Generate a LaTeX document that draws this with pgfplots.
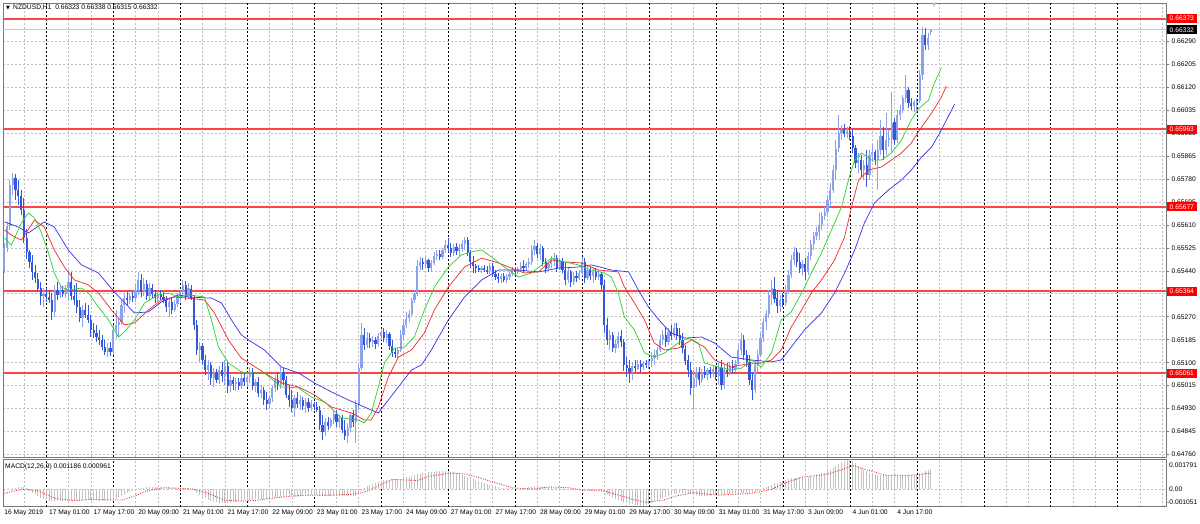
\documentclass[border=0pt]{standalone}
\usepackage{fontspec}
\setmainfont{Liberation Sans}
\newfontfamily\dejavu{DejaVu Sans}
\usepackage{pgfplots}
\usepackage{pgfplotstable}
\pgfplotsset{compat=1.18}
\definecolor{bullc}{RGB}{140,162,236}
\definecolor{bearc}{RGB}{52,86,216}
\definecolor{levelred}{RGB}{250,70,70}
\definecolor{gridc}{RGB}{190,190,190}
\definecolor{framec}{RGB}{120,120,120}
\definecolor{histc}{RGB}{195,195,195}
\definecolor{lblred}{RGB}{255,0,0}
\definecolor{mag}{RGB}{40,210,40}
\definecolor{mar}{RGB}{240,40,40}
\definecolor{mab}{RGB}{50,50,240}
\newcommand\mtfont{\fontsize{6.7}{8}\selectfont}

\pgfplotstableread{
i o h l c
0 0.65443 0.65543 0.65432 0.65524
1 0.65524 0.65621 0.65510 0.65606
2 0.65606 0.65776 0.65591 0.65758
3 0.65758 0.65802 0.65721 0.65783
4 0.65783 0.65798 0.65702 0.65739
5 0.65739 0.65776 0.65684 0.65717
6 0.65717 0.65739 0.65647 0.65665
7 0.65665 0.65709 0.65543 0.65561
8 0.65561 0.65598 0.65487 0.65510
9 0.65510 0.65517 0.65450 0.65473
10 0.65473 0.65499 0.65406 0.65436
11 0.65436 0.65462 0.65395 0.65413
12 0.65413 0.65432 0.65362 0.65376
13 0.65376 0.65399 0.65314 0.65347
14 0.65347 0.65376 0.65306 0.65354
15 0.65354 0.65376 0.65325 0.65343
16 0.65343 0.65369 0.65321 0.65332
17 0.65332 0.65358 0.65258 0.65288
18 0.65288 0.65388 0.65269 0.65369
19 0.65369 0.65399 0.65332 0.65351
20 0.65351 0.65388 0.65339 0.65369
21 0.65369 0.65384 0.65343 0.65354
22 0.65354 0.65388 0.65339 0.65376
23 0.65376 0.65443 0.65332 0.65399
24 0.65399 0.65436 0.65332 0.65347
25 0.65347 0.65388 0.65314 0.65332
26 0.65332 0.65395 0.65284 0.65306
27 0.65306 0.65332 0.65251 0.65265
28 0.65265 0.65314 0.65232 0.65295
29 0.65295 0.65321 0.65265 0.65277
30 0.65277 0.65314 0.65247 0.65258
31 0.65258 0.65277 0.65195 0.65221
32 0.65221 0.65247 0.65191 0.65210
33 0.65210 0.65240 0.65177 0.65195
34 0.65195 0.65221 0.65166 0.65184
35 0.65184 0.65203 0.65147 0.65158
36 0.65158 0.65184 0.65129 0.65140
37 0.65140 0.65173 0.65121 0.65154
38 0.65154 0.65177 0.65125 0.65140
39 0.65140 0.65240 0.65129 0.65221
40 0.65221 0.65295 0.65191 0.65240
41 0.65240 0.65265 0.65195 0.65251
42 0.65251 0.65332 0.65240 0.65314
43 0.65314 0.65358 0.65284 0.65339
44 0.65339 0.65362 0.65314 0.65332
45 0.65332 0.65358 0.65317 0.65347
46 0.65347 0.65362 0.65325 0.65339
47 0.65339 0.65388 0.65325 0.65369
48 0.65369 0.65436 0.65351 0.65406
49 0.65406 0.65428 0.65343 0.65362
50 0.65362 0.65413 0.65347 0.65391
51 0.65391 0.65406 0.65332 0.65347
52 0.65347 0.65395 0.65332 0.65376
53 0.65376 0.65391 0.65339 0.65354
54 0.65354 0.65369 0.65321 0.65339
55 0.65339 0.65365 0.65325 0.65354
56 0.65354 0.65369 0.65332 0.65343
57 0.65343 0.65362 0.65321 0.65332
58 0.65332 0.65347 0.65288 0.65306
59 0.65306 0.65339 0.65269 0.65325
60 0.65325 0.65339 0.65280 0.65295
61 0.65295 0.65332 0.65288 0.65317
62 0.65317 0.65358 0.65306 0.65347
63 0.65347 0.65369 0.65325 0.65362
64 0.65362 0.65406 0.65347 0.65388
65 0.65388 0.65403 0.65332 0.65347
66 0.65347 0.65395 0.65336 0.65376
67 0.65376 0.65388 0.65332 0.65339
68 0.65339 0.65351 0.65221 0.65240
69 0.65240 0.65258 0.65129 0.65147
70 0.65147 0.65177 0.65103 0.65162
71 0.65162 0.65173 0.65092 0.65110
72 0.65110 0.65129 0.65055 0.65073
73 0.65073 0.65110 0.65036 0.65092
74 0.65092 0.65103 0.65018 0.65043
75 0.65043 0.65080 0.65010 0.65066
76 0.65066 0.65080 0.65025 0.65036
77 0.65036 0.65088 0.65022 0.65073
78 0.65073 0.65103 0.65029 0.65051
79 0.65051 0.65110 0.65018 0.65088
80 0.65088 0.65103 0.64988 0.65014
81 0.65014 0.65055 0.64992 0.65036
82 0.65036 0.65047 0.64999 0.65022
83 0.65022 0.65043 0.64996 0.65029
84 0.65029 0.65043 0.64999 0.65014
85 0.65014 0.65058 0.65003 0.65043
86 0.65043 0.65062 0.65014 0.65029
87 0.65029 0.65055 0.65010 0.65047
88 0.65047 0.65084 0.65025 0.65066
89 0.65066 0.65080 0.64999 0.65014
90 0.65014 0.65043 0.64992 0.65029
91 0.65029 0.65047 0.64973 0.64988
92 0.64988 0.65018 0.64970 0.64999
93 0.64999 0.65010 0.64944 0.64962
94 0.64962 0.64992 0.64925 0.64947
95 0.64947 0.64977 0.64933 0.64970
96 0.64970 0.65018 0.64955 0.65007
97 0.65007 0.65055 0.64992 0.65036
98 0.65036 0.65062 0.64999 0.65018
99 0.65018 0.65084 0.65003 0.65066
100 0.65066 0.65080 0.65018 0.65036
101 0.65036 0.65051 0.64970 0.64981
102 0.64981 0.65018 0.64936 0.64962
103 0.64962 0.64999 0.64918 0.64933
104 0.64933 0.64981 0.64899 0.64970
105 0.64970 0.64992 0.64933 0.64947
106 0.64947 0.64981 0.64925 0.64962
107 0.64962 0.64973 0.64925 0.64940
108 0.64940 0.64970 0.64914 0.64955
109 0.64955 0.64970 0.64918 0.64933
110 0.64933 0.64962 0.64921 0.64947
111 0.64947 0.64955 0.64925 0.64936
112 0.64936 0.64955 0.64918 0.64925
113 0.64925 0.64940 0.64851 0.64870
114 0.64870 0.64907 0.64814 0.64844
115 0.64844 0.64896 0.64829 0.64881
116 0.64881 0.64899 0.64851 0.64866
117 0.64866 0.64896 0.64859 0.64888
118 0.64888 0.64925 0.64873 0.64910
119 0.64910 0.64925 0.64862 0.64881
120 0.64881 0.64907 0.64859 0.64896
121 0.64896 0.64907 0.64840 0.64851
122 0.64851 0.64888 0.64814 0.64829
123 0.64829 0.64877 0.64803 0.64859
124 0.64859 0.64918 0.64844 0.64907
125 0.64907 0.64925 0.64862 0.64881
126 0.64881 0.64962 0.64803 0.64944
127 0.64944 0.65099 0.64925 0.65080
128 0.65080 0.65247 0.65073 0.65203
129 0.65203 0.65229 0.65147 0.65166
130 0.65166 0.65214 0.65154 0.65191
131 0.65191 0.65210 0.65154 0.65177
132 0.65177 0.65199 0.65158 0.65184
133 0.65184 0.65195 0.65154 0.65169
134 0.65169 0.65210 0.65162 0.65199
135 0.65199 0.65221 0.65184 0.65214
136 0.65214 0.65229 0.65177 0.65191
137 0.65191 0.65221 0.65173 0.65206
138 0.65206 0.65214 0.65147 0.65162
139 0.65162 0.65184 0.65121 0.65140
140 0.65140 0.65154 0.65118 0.65132
141 0.65132 0.65154 0.65118 0.65147
142 0.65147 0.65221 0.65140 0.65203
143 0.65203 0.65258 0.65184 0.65240
144 0.65240 0.65288 0.65229 0.65265
145 0.65265 0.65295 0.65251 0.65280
146 0.65280 0.65339 0.65273 0.65332
147 0.65332 0.65369 0.65321 0.65354
148 0.65354 0.65480 0.65347 0.65458
149 0.65458 0.65491 0.65443 0.65473
150 0.65473 0.65487 0.65443 0.65465
151 0.65465 0.65491 0.65450 0.65480
152 0.65480 0.65487 0.65436 0.65450
153 0.65450 0.65480 0.65436 0.65469
154 0.65469 0.65510 0.65462 0.65495
155 0.65495 0.65517 0.65480 0.65502
156 0.65502 0.65517 0.65480 0.65491
157 0.65491 0.65524 0.65484 0.65517
158 0.65517 0.65554 0.65506 0.65536
159 0.65536 0.65561 0.65510 0.65524
160 0.65524 0.65543 0.65491 0.65506
161 0.65506 0.65539 0.65495 0.65528
162 0.65528 0.65543 0.65499 0.65513
163 0.65513 0.65539 0.65491 0.65524
164 0.65524 0.65554 0.65510 0.65539
165 0.65539 0.65565 0.65517 0.65554
166 0.65554 0.65565 0.65495 0.65506
167 0.65506 0.65517 0.65450 0.65473
168 0.65473 0.65495 0.65432 0.65458
169 0.65458 0.65465 0.65432 0.65450
170 0.65450 0.65462 0.65436 0.65443
171 0.65443 0.65458 0.65432 0.65450
172 0.65450 0.65462 0.65436 0.65443
173 0.65443 0.65458 0.65428 0.65439
174 0.65439 0.65469 0.65428 0.65458
175 0.65458 0.65469 0.65417 0.65428
176 0.65428 0.65443 0.65406 0.65417
177 0.65417 0.65432 0.65395 0.65410
178 0.65410 0.65428 0.65395 0.65421
179 0.65421 0.65432 0.65399 0.65406
180 0.65406 0.65428 0.65395 0.65417
181 0.65417 0.65436 0.65406 0.65428
182 0.65428 0.65454 0.65421 0.65443
183 0.65443 0.65454 0.65425 0.65436
184 0.65436 0.65454 0.65428 0.65447
185 0.65447 0.65473 0.65436 0.65458
186 0.65458 0.65480 0.65432 0.65450
187 0.65450 0.65473 0.65439 0.65465
188 0.65465 0.65487 0.65450 0.65473
189 0.65473 0.65536 0.65462 0.65517
190 0.65517 0.65554 0.65499 0.65532
191 0.65532 0.65543 0.65487 0.65502
192 0.65502 0.65539 0.65480 0.65524
193 0.65524 0.65532 0.65458 0.65473
194 0.65473 0.65487 0.65432 0.65450
195 0.65450 0.65473 0.65439 0.65465
196 0.65465 0.65495 0.65450 0.65480
197 0.65480 0.65506 0.65458 0.65487
198 0.65487 0.65499 0.65436 0.65450
199 0.65450 0.65487 0.65443 0.65473
200 0.65473 0.65487 0.65432 0.65443
201 0.65443 0.65469 0.65388 0.65406
202 0.65406 0.65450 0.65395 0.65436
203 0.65436 0.65443 0.65380 0.65399
204 0.65399 0.65436 0.65388 0.65421
205 0.65421 0.65439 0.65399 0.65413
206 0.65413 0.65443 0.65406 0.65432
207 0.65432 0.65491 0.65421 0.65473
208 0.65473 0.65487 0.65395 0.65413
209 0.65413 0.65458 0.65406 0.65443
210 0.65443 0.65454 0.65406 0.65421
211 0.65421 0.65450 0.65395 0.65436
212 0.65436 0.65450 0.65406 0.65417
213 0.65417 0.65443 0.65406 0.65428
214 0.65428 0.65436 0.65369 0.65388
215 0.65388 0.65406 0.65210 0.65240
216 0.65240 0.65265 0.65166 0.65184
217 0.65184 0.65221 0.65147 0.65203
218 0.65203 0.65214 0.65140 0.65154
219 0.65154 0.65184 0.65136 0.65169
220 0.65169 0.65214 0.65154 0.65199
221 0.65199 0.65221 0.65158 0.65177
222 0.65177 0.65191 0.65073 0.65092
223 0.65092 0.65121 0.65047 0.65080
224 0.65080 0.65110 0.65025 0.65066
225 0.65066 0.65103 0.65036 0.65088
226 0.65088 0.65110 0.65066 0.65080
227 0.65080 0.65110 0.65073 0.65095
228 0.65095 0.65110 0.65066 0.65084
229 0.65084 0.65106 0.65073 0.65099
230 0.65099 0.65110 0.65080 0.65092
231 0.65092 0.65117 0.65080 0.65106
232 0.65106 0.65140 0.65084 0.65117
233 0.65117 0.65147 0.65092 0.65129
234 0.65129 0.65158 0.65110 0.65147
235 0.65147 0.65203 0.65140 0.65184
236 0.65184 0.65221 0.65166 0.65203
237 0.65203 0.65232 0.65158 0.65177
238 0.65177 0.65229 0.65166 0.65214
239 0.65214 0.65240 0.65184 0.65199
240 0.65199 0.65247 0.65191 0.65229
241 0.65229 0.65247 0.65184 0.65203
242 0.65203 0.65229 0.65166 0.65184
243 0.65184 0.65210 0.65136 0.65154
244 0.65154 0.65166 0.65092 0.65110
245 0.65110 0.65129 0.65047 0.65073
246 0.65073 0.65103 0.64981 0.65007
247 0.65007 0.65073 0.64925 0.65043
248 0.65043 0.65084 0.65010 0.65066
249 0.65066 0.65084 0.65018 0.65036
250 0.65036 0.65080 0.65025 0.65066
251 0.65066 0.65088 0.65043 0.65055
252 0.65055 0.65080 0.65036 0.65073
253 0.65073 0.65084 0.65043 0.65058
254 0.65058 0.65088 0.65047 0.65077
255 0.65077 0.65088 0.65036 0.65051
256 0.65051 0.65103 0.65018 0.65080
257 0.65080 0.65110 0.64999 0.65018
258 0.65018 0.65092 0.65003 0.65073
259 0.65073 0.65099 0.65047 0.65066
260 0.65066 0.65103 0.65055 0.65088
261 0.65088 0.65110 0.65062 0.65080
262 0.65080 0.65110 0.65066 0.65095
263 0.65095 0.65166 0.65088 0.65147
264 0.65147 0.65210 0.65129 0.65184
265 0.65184 0.65203 0.65110 0.65129
266 0.65129 0.65147 0.65084 0.65103
267 0.65103 0.65129 0.65018 0.65036
268 0.65036 0.65066 0.64962 0.64999
269 0.64999 0.65110 0.64988 0.65092
270 0.65092 0.65147 0.65066 0.65129
271 0.65129 0.65210 0.65121 0.65191
272 0.65191 0.65265 0.65177 0.65251
273 0.65251 0.65295 0.65221 0.65280
274 0.65280 0.65369 0.65265 0.65351
275 0.65351 0.65406 0.65314 0.65376
276 0.65376 0.65417 0.65321 0.65339
277 0.65339 0.65369 0.65284 0.65310
278 0.65310 0.65351 0.65288 0.65332
279 0.65332 0.65358 0.65306 0.65321
280 0.65321 0.65388 0.65310 0.65369
281 0.65369 0.65443 0.65358 0.65425
282 0.65425 0.65499 0.65413 0.65480
283 0.65480 0.65528 0.65462 0.65510
284 0.65510 0.65524 0.65454 0.65473
285 0.65473 0.65506 0.65432 0.65450
286 0.65450 0.65480 0.65425 0.65465
287 0.65465 0.65487 0.65406 0.65436
288 0.65436 0.65510 0.65425 0.65495
289 0.65495 0.65554 0.65480 0.65539
290 0.65539 0.65584 0.65517 0.65569
291 0.65569 0.65602 0.65554 0.65584
292 0.65584 0.65654 0.65554 0.65610
293 0.65610 0.65658 0.65591 0.65643
294 0.65643 0.65676 0.65628 0.65658
295 0.65658 0.65717 0.65647 0.65702
296 0.65702 0.65765 0.65676 0.65739
297 0.65739 0.65832 0.65728 0.65813
298 0.65813 0.65924 0.65776 0.65894
299 0.65894 0.66017 0.65880 0.65950
300 0.65950 0.65979 0.65924 0.65961
301 0.65961 0.65983 0.65935 0.65946
302 0.65946 0.65972 0.65931 0.65957
303 0.65957 0.65976 0.65924 0.65939
304 0.65939 0.65961 0.65876 0.65894
305 0.65894 0.65906 0.65820 0.65839
306 0.65839 0.65876 0.65802 0.65850
307 0.65850 0.65869 0.65787 0.65813
308 0.65813 0.65850 0.65776 0.65832
309 0.65832 0.65887 0.65750 0.65795
310 0.65795 0.65887 0.65776 0.65869
311 0.65869 0.65909 0.65843 0.65880
312 0.65880 0.65887 0.65832 0.65850
313 0.65850 0.65924 0.65739 0.65887
314 0.65887 0.65998 0.65869 0.65942
315 0.65942 0.65972 0.65850 0.65887
316 0.65887 0.66024 0.65869 0.65924
317 0.65924 0.65961 0.65898 0.65931
318 0.65931 0.66101 0.65876 0.65990
319 0.65990 0.66005 0.65906 0.65924
320 0.65924 0.66035 0.65913 0.66017
321 0.66017 0.66054 0.65998 0.66035
322 0.66035 0.66090 0.66024 0.66079
323 0.66079 0.66164 0.66064 0.66109
324 0.66109 0.66120 0.66042 0.66061
325 0.66061 0.66079 0.66035 0.66050
326 0.66050 0.66072 0.66028 0.66064
327 0.66064 0.66079 0.66035 0.66068
328 0.66068 0.66183 0.66061 0.66164
329 0.66164 0.66342 0.66146 0.66313
330 0.66313 0.66339 0.66257 0.66276
331 0.66276 0.66320 0.66257 0.66302
332 0.66323 0.66338 0.66315 0.66332
}\candles

\pgfplotstableread{
x y
-0.5 0.66373
416.3 0.66373
nan nan
-0.5 0.65963
416.3 0.65963
nan nan
-0.5 0.65677
416.3 0.65677
nan nan
-0.5 0.65364
416.3 0.65364
nan nan
-0.5 0.65061
416.3 0.65061
}\levels

\begin{document}
\begin{tikzpicture}[font=\mtfont]
\fill[white] (0pt,0pt) rectangle (1200pt,-523pt);
\useasboundingbox (0pt,0pt) rectangle (1200pt,-523pt);

% ---------------- main price panel ----------------
\begin{axis}[
  at={(3pt,-3pt)}, anchor=north west,
  scale only axis, width=1163pt, height=454pt,
  xmin=-0.5, xmax=416.3, ymin=0.64751, ymax=0.66431,
  axis line style={framec, line width=0.9pt},
  xtick={7,15,...,415}, xticklabels={}, xtick style={draw=none},
  xmajorgrids,
  extra x ticks={15,39,...,399}, extra x tick labels={},
  extra x tick style={grid=major, major tick length=0pt,
     major grid style={black, dash pattern=on 2pt off 2pt, line width=0.6pt}},
  ytick={0.64760,0.64845,0.64930,0.65015,0.65100,0.65185,0.65270,0.65355,0.65440,0.65525,0.65610,0.65695,0.65780,0.65865,0.65950,0.66035,0.66120,0.66205,0.66290,0.66375},
  ymajorgrids, ytick pos=right, yticklabel pos=right,
  ytick style={framec, line width=0.6pt}, tick align=outside, major tick length=3pt,
  scaled y ticks=false,
  grid style={gridc, dash pattern=on 2pt off 2pt, line width=0.6pt},
  yticklabel style={font=\mtfont, xshift=-1pt, /pgf/number format/.cd, fixed, fixed zerofill, precision=5, assume math mode=true},
]
% current price line
\addplot[gray!45, line width=0.8pt, forget plot] coordinates {(-0.5,0.66332) (416.3,0.66332)};

% support / resistance levels
\addplot[draw=levelred, line width=2pt, mark=none, forget plot, unbounded coords=jump] table[x=x, y=y] {\levels};

% candles: wicks and bodies
\addplot[draw=none, mark=none, forget plot, unbounded coords=discard,
  error bars/.cd, y dir=both, y explicit, error mark=none,
  error bar style={draw=bullc, line width=1pt}]
  table[x=i, y expr={\thisrow{c}<\thisrow{o} ? nan : (\thisrow{h}+\thisrow{l})/2},
        y error expr={(\thisrow{h}-\thisrow{l})/2}] {\candles};
\addplot[draw=none, mark=none, forget plot, unbounded coords=discard,
  error bars/.cd, y dir=both, y explicit, error mark=none,
  error bar style={draw=bullc, line width=2.2pt}]
  table[x=i, y expr={\thisrow{c}<\thisrow{o} ? nan : (\thisrow{o}+\thisrow{c})/2},
        y error expr={abs(\thisrow{c}-\thisrow{o})/2}] {\candles};
\addplot[draw=none, mark=none, forget plot, unbounded coords=discard,
  error bars/.cd, y dir=both, y explicit, error mark=none,
  error bar style={draw=bearc, line width=1pt}]
  table[x=i, y expr={\thisrow{c}<\thisrow{o} ? (\thisrow{h}+\thisrow{l})/2 : nan},
        y error expr={(\thisrow{h}-\thisrow{l})/2}] {\candles};
\addplot[draw=none, mark=none, forget plot, unbounded coords=discard,
  error bars/.cd, y dir=both, y explicit, error mark=none,
  error bar style={draw=bearc, line width=2.2pt}]
  table[x=i, y expr={\thisrow{c}<\thisrow{o} ? (\thisrow{o}+\thisrow{c})/2 : nan},
        y error expr={abs(\thisrow{c}-\thisrow{o})/2}] {\candles};

% moving averages
\addplot[mab, line width=0.7pt, forget plot] coordinates {(0,0.65621) (5,0.65602) (8.6,0.65580) (14.3,0.65621) (17.9,0.65602) (22.9,0.65517) (27.6,0.65462) (33.7,0.65432) (39.4,0.65362) (46.6,0.65284) (51.6,0.65288) (56.3,0.65325) (62.4,0.65351) (65.9,0.65343) (74.2,0.65339) (77.8,0.65321) (81.4,0.65258) (84.9,0.65203) (87.5,0.65184) (93.2,0.65147) (99.3,0.65084) (105.4,0.65062) (111.1,0.65025) (117.2,0.64992) (123.3,0.64962) (129,0.64936) (134,0.64914) (137.6,0.64962) (142.3,0.65025) (145.9,0.65073) (149.5,0.65092) (153,0.65147) (159.1,0.65258) (164.9,0.65343) (171,0.65406) (177.1,0.65443) (184.2,0.65443) (191.4,0.65436) (198.6,0.65450) (205.7,0.65454) (210.3,0.65462) (217.5,0.65443) (223.7,0.65436) (227.2,0.65369) (230.8,0.65306) (235.5,0.65247) (239,0.65210) (243.7,0.65191) (249.8,0.65195) (254.5,0.65173) (260.5,0.65121) (267.7,0.65110) (274.9,0.65103) (278.4,0.65110) (282,0.65158) (286.7,0.65221) (292.8,0.65284) (297.5,0.65358) (301.1,0.65432) (304.7,0.65517) (308.2,0.65617) (311.8,0.65691) (316.8,0.65739) (321.5,0.65776) (325,0.65813) (328.7,0.65861) (332.3,0.65898) (335.8,0.65961) (340.5,0.66057)};
\addplot[mar, line width=0.7pt, forget plot] coordinates {(0,0.65591) (3.6,0.65565) (6.1,0.65554) (10.8,0.65628) (14.3,0.65602) (17.9,0.65517) (21.5,0.65454) (25.1,0.65406) (30.1,0.65388) (33.7,0.65358) (38.4,0.65295) (43,0.65240) (46.6,0.65247) (51.6,0.65295) (56.3,0.65332) (60.9,0.65343) (65.9,0.65339) (71.7,0.65332) (75.3,0.65284) (80.3,0.65184) (84.9,0.65117) (86,0.65110) (93.2,0.65062) (99.3,0.65025) (105.4,0.65010) (111.1,0.64981) (117.2,0.64936) (124.4,0.64914) (129,0.64888) (131.5,0.64888) (134,0.64936) (137.6,0.65047) (141.2,0.65121) (145.9,0.65147) (150.5,0.65210) (154.1,0.65295) (159.1,0.65380) (164.9,0.65454) (171,0.65487) (177.1,0.65469) (181.7,0.65450) (186.4,0.65432) (191.4,0.65436) (196.1,0.65480) (200.6,0.65473) (206.8,0.65469) (212.8,0.65443) (220,0.65436) (222.2,0.65380) (225.8,0.65321) (229.4,0.65258) (232.9,0.65173) (236.6,0.65147) (241.5,0.65154) (246.2,0.65184) (250.9,0.65158) (254.5,0.65110) (260.5,0.65084) (264.2,0.65092) (271.3,0.65099) (274.9,0.65110) (278.4,0.65147) (282,0.65232) (285.7,0.65295) (289.2,0.65358) (292.8,0.65406) (297.5,0.65480) (301.1,0.65565) (303.6,0.65676) (306.1,0.65776) (309.7,0.65813) (314.3,0.65824) (317.9,0.65850) (321.5,0.65876) (325,0.65913) (328.7,0.65972) (332.3,0.66024) (335.8,0.66083) (337.6,0.66124)};
\addplot[mag, line width=0.7pt, forget plot] coordinates {(0,0.65561) (2.5,0.65535) (6.1,0.65617) (8.6,0.65654) (10.8,0.65636) (13.3,0.65580) (15.8,0.65506) (17.9,0.65432) (20.4,0.65380) (22.9,0.65369) (27.6,0.65376) (30.1,0.65358) (33.7,0.65306) (37.3,0.65258) (40.9,0.65195) (43,0.65214) (46.6,0.65258) (50.2,0.65321) (55.2,0.65351) (58.8,0.65358) (62.4,0.65343) (65.9,0.65351) (71.7,0.65343) (74.2,0.65258) (76.7,0.65158) (80.3,0.65099) (84.9,0.65066) (87.5,0.65062) (93.2,0.65062) (99.3,0.65010) (105.4,0.65007) (110,0.64973) (114.7,0.64955) (120.8,0.64896) (126.9,0.64888) (129,0.64877) (131.5,0.64914) (134,0.65010) (136.2,0.65099) (139.8,0.65154) (143.4,0.65158) (146.9,0.65195) (150.5,0.65295) (154.1,0.65380) (159.1,0.65454) (163.8,0.65499) (167.4,0.65510) (171,0.65517) (174.6,0.65491) (179.2,0.65454) (184.2,0.65417) (188.9,0.65432) (193.5,0.65469) (196.1,0.65487) (200.6,0.65473) (205.7,0.65462) (210.3,0.65443) (215,0.65432) (217.5,0.65417) (220,0.65358) (222.2,0.65269) (225.8,0.65221) (229.4,0.65136) (232.9,0.65121) (236.6,0.65136) (241.5,0.65173) (245.1,0.65191) (248.7,0.65173) (250.9,0.65099) (255.9,0.65084) (260.5,0.65073) (264.2,0.65080) (267.7,0.65110) (271.3,0.65084) (274.9,0.65136) (278.4,0.65258) (282,0.65288) (285.7,0.65358) (289.2,0.65432) (292.8,0.65506) (296.4,0.65591) (300,0.65676) (302.5,0.65776) (304.7,0.65850) (307.2,0.65876) (310.7,0.65850) (314.3,0.65850) (317.9,0.65876) (321.5,0.65924) (325,0.65998) (327.6,0.66039) (331.2,0.66072) (333.3,0.66135) (335.8,0.66191)};

\coordinate (r1) at (axis cs:416.3,0.66373);
\coordinate (r2) at (axis cs:416.3,0.65963);
\coordinate (r3) at (axis cs:416.3,0.65677);
\coordinate (r4) at (axis cs:416.3,0.65364);
\coordinate (r5) at (axis cs:416.3,0.65061);
\coordinate (cp) at (axis cs:416.3,0.66332);
\end{axis}

% ---------------- MACD panel ----------------
\begin{axis}[
  at={(3pt,-459.3pt)}, anchor=north west,
  scale only axis, width=1163pt, height=47.4pt,
  xmin=-0.5, xmax=416.3, ymin=-0.001051, ymax=0.001791,
  axis line style={framec, line width=0.9pt},
  xtick={7,15,...,415}, xticklabels={}, 
  xmajorgrids,
  extra x ticks={15,39,...,399}, extra x tick labels={},
  extra x tick style={grid=major,
     major grid style={black, dash pattern=on 2pt off 2pt, line width=0.6pt}},
  ytick={0}, yticklabels={}, ymajorgrids,
  tick style={draw=none}, major tick length=0pt,
  grid style={gridc, dash pattern=on 2pt off 2pt, line width=0.6pt},
  scaled y ticks=false,
]
\addplot[ycomb, histc, line width=1pt, mark=none, forget plot] coordinates {
(0,-0.00010) (1,-0.00005) (2,0) (3,0.00005) (4,0.00010) (5,0.00012) (6,0.00014) (7,0.00015) (8,0.00005) (9,-0.00008)
(10,-0.00020) (11,-0.00030) (12,-0.00040) (13,-0.00050) (14,-0.00057) (15,-0.00064) (16,-0.00070) (17,-0.00071) (18,-0.00071) (19,-0.00072)
(20,-0.00072) (21,-0.00071) (22,-0.00070) (23,-0.00069) (24,-0.00068) (25,-0.00066) (26,-0.00064) (27,-0.00063) (28,-0.00062) (29,-0.00063)
(30,-0.00063) (31,-0.00064) (32,-0.00065) (33,-0.00066) (34,-0.00068) (35,-0.00069) (36,-0.00070) (37,-0.00069) (38,-0.00067) (39,-0.00065)
(40,-0.00057) (41,-0.00048) (42,-0.00040) (43,-0.00032) (44,-0.00023) (45,-0.00015) (46,-0.00008) (47,-0.00002) (48,0.00005) (49,0.00008)
(50,0.00010) (51,0.00012) (52,0.00012) (53,0.00012) (54,0.00012) (55,0.00011) (56,0.00011) (57,0.00010) (58,0.00008) (59,0.00007)
(60,0.00005) (61,0.00005) (62,0.00004) (63,0.00004) (64,0.00004) (65,0.00005) (66,0.00005) (67,-0.00003) (68,-0.00011) (69,-0.00020)
(70,-0.00032) (71,-0.00044) (72,-0.00055) (73,-0.00062) (74,-0.00069) (75,-0.00075) (76,-0.00079) (77,-0.00082) (78,-0.00085) (79,-0.00083)
(80,-0.00082) (81,-0.00080) (82,-0.00077) (83,-0.00075) (84,-0.00072) (85,-0.00070) (86,-0.00067) (87,-0.00065) (88,-0.00063) (89,-0.00062)
(90,-0.00060) (91,-0.00059) (92,-0.00059) (93,-0.00058) (94,-0.00057) (95,-0.00056) (96,-0.00055) (97,-0.00052) (98,-0.00048) (99,-0.00045)
(100,-0.00044) (101,-0.00043) (102,-0.00042) (103,-0.00043) (104,-0.00044) (105,-0.00045) (106,-0.00043) (107,-0.00042) (108,-0.00040) (109,-0.00038)
(110,-0.00037) (111,-0.00035) (112,-0.00037) (113,-0.00040) (114,-0.00042) (115,-0.00041) (116,-0.00041) (117,-0.00040) (118,-0.00039) (119,-0.00039)
(120,-0.00038) (121,-0.00039) (122,-0.00040) (123,-0.00040) (124,-0.00039) (125,-0.00039) (126,-0.00038) (127,-0.00025) (128,-0.00010) (129,0.00005)
(130,0.00020) (131,0.00027) (132,0.00033) (133,0.00040) (134,0.00045) (135,0.00050) (136,0.00055) (137,0.00057) (138,0.00058) (139,0.00060)
(140,0.00061) (141,0.00061) (142,0.00062) (143,0.00066) (144,0.00071) (145,0.00075) (146,0.00080) (147,0.00085) (148,0.00090) (149,0.00093)
(150,0.00097) (151,0.00100) (152,0.00102) (153,0.00103) (154,0.00105) (155,0.00107) (156,0.00108) (157,0.00110) (158,0.00108) (159,0.00107)
(160,0.00105) (161,0.00102) (162,0.00098) (163,0.00095) (164,0.00088) (165,0.00082) (166,0.00075) (167,0.00068) (168,0.00062) (169,0.00055)
(170,0.00048) (171,0.00042) (172,0.00035) (173,0.00030) (174,0.00025) (175,0.00020) (176,0.00017) (177,0.00013) (178,0.00010) (179,0.00008)
(180,0.00007) (181,0.00005) (182,0.00005) (183,0.00005) (184,0.00005) (185,0.00006) (186,0.00007) (187,0.00008) (188,0.00012) (189,0.00015)
(190,0.00018) (191,0.00017) (192,0.00016) (193,0.00015) (194,0.00013) (195,0.00012) (196,0.00010) (197,0.00009) (198,0.00009) (199,0.00008)
(200,0.00005) (201,0.00003) (202,0) (203,-0.00002) (204,-0.00003) (205,-0.00005) (206,-0.00003) (207,-0.00001) (208,0) (209,-0.00001)
(210,-0.00001) (211,-0.00002) (212,-0.00004) (213,-0.00006) (214,-0.00008) (215,-0.00019) (216,-0.00030) (217,-0.00040) (218,-0.00050) (219,-0.00060)
(220,-0.00067) (221,-0.00073) (222,-0.00080) (223,-0.00084) (224,-0.00087) (225,-0.00090) (226,-0.00094) (227,-0.00097) (228,-0.00100) (229,-0.00098)
(230,-0.00095) (231,-0.00088) (232,-0.00080) (233,-0.00072) (234,-0.00065) (235,-0.00058) (236,-0.00052) (237,-0.00045) (238,-0.00040) (239,-0.00035)
(240,-0.00030) (241,-0.00027) (242,-0.00023) (243,-0.00020) (244,-0.00023) (245,-0.00027) (246,-0.00030) (247,-0.00033) (248,-0.00037) (249,-0.00040)
(250,-0.00040) (251,-0.00040) (252,-0.00040) (253,-0.00038) (254,-0.00037) (255,-0.00035) (256,-0.00034) (257,-0.00033) (258,-0.00032) (259,-0.00031)
(260,-0.00030) (261,-0.00028) (262,-0.00025) (263,-0.00023) (264,-0.00020) (265,-0.00021) (266,-0.00022) (267,-0.00022) (268,-0.00018) (269,-0.00014)
(270,-0.00010) (271,-0.00002) (272,0.00007) (273,0.00015) (274,0.00022) (275,0.00028) (276,0.00035) (277,0.00040) (278,0.00045) (279,0.00050)
(280,0.00055) (281,0.00060) (282,0.00065) (283,0.00067) (284,0.00070) (285,0.00072) (286,0.00073) (287,0.00074) (288,0.00075) (289,0.00078)
(290,0.00082) (291,0.00085) (292,0.00090) (293,0.00095) (294,0.00100) (295,0.00108) (296,0.00116) (297,0.00125) (298,0.00137) (299,0.00150)
(300,0.00160) (301,0.00170) (302,0.00175) (303,0.00179) (304,0.00170) (305,0.00155) (306,0.00140) (307,0.00127) (308,0.00115) (309,0.00107)
(310,0.00100) (311,0.00095) (312,0.00090) (313,0.00088) (314,0.00085) (315,0.00084) (316,0.00085) (317,0.00085) (318,0.00085) (319,0.00083)
(320,0.00082) (321,0.00084) (322,0.00085) (323,0.00087) (324,0.00088) (325,0.00087) (326,0.00086) (327,0.00087) (328,0.00088) (329,0.00100)
(330,0.00110) (331,0.00115) (332,0.00119)};
\addplot[mar, line width=0.8pt, dash pattern=on 1pt off 1.4pt, forget plot] coordinates {
(0,-0.00025) (4,-0.00008) (7.5,0.00000) (12,-0.00010) (18,-0.00054) (25,-0.00069) (31,-0.00062) (37.5,-0.00064) (42,-0.00065) (46,-0.00045) (51,-0.00011) (57,0.00009) (62,0.00006) (68,0.00000) (73,-0.00025) (79,-0.00066) (85,-0.00072) (90,-0.00068) (96,-0.00054) (101,-0.00045) (107,-0.00036) (114,-0.00037) (120,-0.00034) (125,-0.00030) (128,-0.00021) (131,-0.00005) (134,0.00019) (139,0.00058) (144,0.00055) (148,0.00052) (152,0.00077) (160,0.00097) (165,0.00091) (170,0.00070) (174,0.00048) (182,0.00009) (189,0.00000) (195,0.00013) (202,0.00009) (207,-0.00005) (215,-0.00011) (221,-0.00040) (226,-0.00065) (230,-0.00079) (236,-0.00066) (241,-0.00040) (247,-0.00021) (252,-0.00030) (256,-0.00036) (262,-0.00030) (267,-0.00026) (271,-0.00015) (275,0.00000) (280,0.00038) (286,0.00073) (294,0.00087) (299,0.00110) (304,0.00142) (309,0.00116) (316,0.00083) (325,0.00083) (332,0.00096)};
\end{axis}

% ---------------- date labels ----------------
\begin{axis}[
  at={(3pt,-459.3pt)}, anchor=north west,
  scale only axis, width=1163pt, height=47.4pt,
  xmin=-0.5, xmax=416.3, ymin=0, ymax=1,
  axis line style={draw=none}, ytick=\empty, tick style={draw=none},
  xtick={0,16,...,320},
  xticklabels={16 May 2019, 17 May 01:00, 17 May 17:00, 20 May 09:00, 21 May 01:00, 21 May 17:00, 22 May 09:00, 23 May 01:00, 23 May 17:00, 24 May 09:00, 27 May 01:00, 27 May 17:00, 28 May 09:00, 29 May 01:00, 29 May 17:00, 30 May 09:00, 31 May 01:00, 31 May 17:00, 3 Jun 09:00, 4 Jun 01:00, 4 Jun 17:00},
  xticklabel style={font=\mtfont, anchor=north west, xshift=-3.5pt, yshift=0pt},
]
\end{axis}

% ---------------- price labels ----------------
\tikzset{plab/.style={anchor=west, inner xsep=3pt, inner ysep=0pt, minimum height=9pt, text=white, font=\mtfont}}
\node[plab, fill=lblred] at ([xshift=0.5pt]r1) {0.66373};
\node[plab, fill=black] at ([xshift=0.5pt]cp) {0.66332};
\node[plab, fill=lblred] at ([xshift=0.5pt]r2) {0.65963};
\node[plab, fill=lblred] at ([xshift=0.5pt]r3) {0.65677};
\node[plab, fill=lblred] at ([xshift=0.5pt]r4) {0.65364};
\node[plab, fill=lblred] at ([xshift=0.5pt]r5) {0.65061};

% MACD scale labels
\node[anchor=west, inner sep=0pt] at (1169pt,-465pt) {0.001791};
\node[anchor=west, inner sep=0pt] at (1169pt,-489.5pt) {0.00};
\node[anchor=west, inner sep=0pt] at (1167pt,-502pt) {-0.001051};

% titles
\node[anchor=center, inner sep=0pt] at (8pt,-8pt) {\dejavu\fontsize{5}{5}\selectfont ▼};
\node[anchor=west, inner sep=0pt] at (13pt,-8pt) {NZDUSD,H1\ \ 0.66323 0.66338 0.66315 0.66332};
\node[anchor=west, inner sep=0pt] at (5pt,-467pt) {MACD(12,26,9) 0.001186 0.000961};
\fill[gray!55] (931.5pt,-2.5pt) -- (936.5pt,-2.5pt) -- (934pt,-6.5pt) -- cycle;
\end{tikzpicture}
\end{document}
